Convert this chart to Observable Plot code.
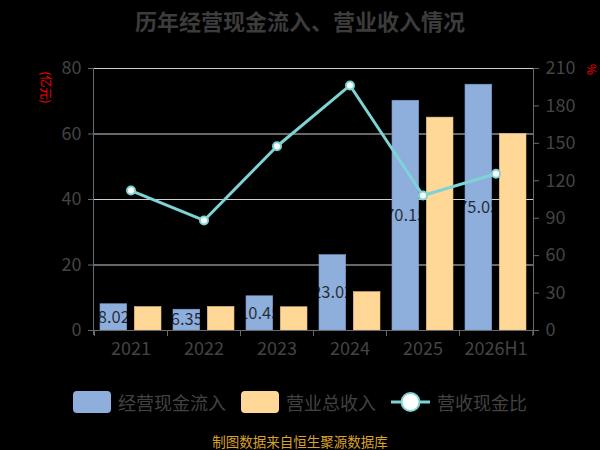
<!DOCTYPE html>
<html>
<head>
<meta charset="utf-8">
<script src="https://cdn.jsdelivr.net/npm/d3@7"></script>
<script src="https://cdn.jsdelivr.net/npm/@observablehq/plot@0.6"></script>
<style>
  html, body { margin: 0; padding: 0; background: #000; width: 600px; height: 450px; overflow: hidden; }
  body { font-family: "Noto Sans CJK SC", "Noto Sans", sans-serif; }
  #title { height: 40px; line-height: 40px; text-align: center; font-size: 22px; font-weight: bold; color: #3c3c3c; }
  #chart { height: 332px; }
  #legend { height: 60px; display: flex; justify-content: center; align-items: center; gap: 15px; font-size: 18px; color: #424242; }
  .item { display: flex; align-items: center; gap: 7px; }
  .sw { width: 38px; height: 22px; border-radius: 4px; }
  #caption { height: 18px; line-height: 18px; text-align: center; font-size: 13.5px; color: #d9a22b; }
</style>
</head>
<body>
<div id="title">历年经营现金流入、营业收入情况</div>
<div id="chart"></div>
<div id="legend"></div>
<div id="caption">制图数据来自恒生聚源数据库</div>
<script>
const years = ["2021", "2022", "2023", "2024", "2025", "2026H1"];
const cashInflow = [8.02, 6.35, 10.45, 23.02, 70.15, 75.05];
const revenue = [7.15, 7.2, 7.1, 11.7, 65.0, 60.0];
const ratio = [112.2, 88.2, 147.7, 196.4, 108.2, 125.6];
const leftTicks = [0, 20, 40, 60, 80];
const rightTicks = [0, 30, 60, 90, 120, 150, 180, 210];
const seriesNames = ["经营现金流入", "营业总收入", "营收现金比"];
const leftUnit = "(亿元)";
const rightUnit = "%";

const blue = "#8eaedc", orange = "#ffd898", teal = "#7ed3d4";
const axisColor = "#6a6a6a", gridColor = "#cfcfcf", textColor = "#444";
const leftMax = 80, rightMax = 210;
const toLeft = v => v * leftMax / rightMax;

const data = years.map((year, i) => ({year, cash: cashInflow[i], rev: revenue[i], ratio: ratio[i]}));

const axisLines = (index, scales, values, dims) => {
  const g = d3.create("svg:g").attr("stroke", axisColor).attr("fill", "none");
  const top = dims.marginTop, bottom = dims.height - dims.marginBottom;
  const left = dims.marginLeft, right = dims.width - dims.marginRight;
  g.append("line").attr("x1", left + 0.5).attr("x2", left + 0.5).attr("y1", top).attr("y2", bottom + 5);
  g.append("line").attr("x1", right + 0.5).attr("x2", right + 0.5).attr("y1", top).attr("y2", bottom + 5);
  g.append("line").attr("x1", left).attr("x2", right).attr("y1", bottom + 0.5).attr("y2", bottom + 0.5);
  const bw = (right - left) / years.length;
  const starts = years.map(y => scales.x(y));
  starts.push(scales.x(years[years.length - 1]) + bw);
  for (const x of starts) {
    g.append("line").attr("x1", x + 0.5).attr("x2", x + 0.5).attr("y1", bottom).attr("y2", bottom + 6);
  }
  return g.node();
};

const plot = Plot.plot({
  width: 600,
  height: 332,
  marginLeft: 93,
  marginRight: 67,
  marginTop: 28,
  marginBottom: 42,
  style: {background: "#000", fontFamily: "'Noto Sans CJK SC', 'Noto Sans', sans-serif", fontSize: "18px", color: textColor},
  x: {type: "band", domain: years, padding: 0},
  y: {domain: [0, leftMax]},
  marks: [
    Plot.gridY(leftTicks.filter(t => t > 0), {stroke: gridColor, strokeOpacity: 1, strokeWidth: 1.2}),
    Plot.barY(data, {x: "year", y: "cash", fill: blue, insetLeft: 6, insetRight: 40.3, stroke: "#7b9bcb", strokeWidth: 0.6}),
    Plot.barY(data, {x: "year", y: "rev", fill: orange, insetLeft: 40.3, insetRight: 6, stroke: "#e8bf7e", strokeWidth: 0.6}),
    Plot.text(data, {x: "year", y: d => d.cash / 2, text: d => d.cash.toFixed(2), dx: -17.2, fill: "#000", fillOpacity: 0.75, fontSize: 16.5}),
    Plot.line(data, {x: "year", y: d => toLeft(d.ratio), stroke: teal, strokeWidth: 3}),
    Plot.dot(data, {x: "year", y: d => toLeft(d.ratio), r: 4, fill: "#fff", stroke: teal, strokeWidth: 2}),
    axisLines,
    Plot.axisX({tickSize: 0, tickPadding: 12, fill: textColor, fontSize: 18, label: null}),
    Plot.axisY(leftTicks, {anchor: "left", tickSize: 5, tickPadding: 7, stroke: axisColor, fill: textColor, fontSize: 18, label: null}),
    Plot.axisY(rightTicks.map(toLeft), {anchor: "right", tickSize: 5, tickPadding: 7, stroke: axisColor, fill: textColor, fontSize: 18, label: null, tickFormat: d => Math.round(d * rightMax / leftMax)}),
    Plot.text([leftUnit], {frameAnchor: "top-left", dx: -49, dy: 19, rotate: 90, textAnchor: "middle", lineAnchor: "middle", fill: "#ff0000", fontSize: 12}),
    Plot.text([rightUnit], {frameAnchor: "top-right", dx: 57, dy: 1, rotate: 90, textAnchor: "middle", lineAnchor: "middle", fill: "#ff0000", fontSize: 12})
  ]
});
document.getElementById("chart").appendChild(plot);

const legend = document.getElementById("legend");
const swatchColors = [blue, orange];
seriesNames.forEach((name, i) => {
  const item = document.createElement("div");
  item.className = "item";
  if (i < 2) {
    const sw = document.createElement("div");
    sw.className = "sw";
    sw.style.background = swatchColors[i];
    item.appendChild(sw);
  } else {
    const svg = d3.create("svg").attr("width", 39).attr("height", 22);
    svg.append("line").attr("x1", 0).attr("x2", 39).attr("y1", 11).attr("y2", 11).attr("stroke", teal).attr("stroke-width", 3);
    svg.append("circle").attr("cx", 19.5).attr("cy", 11).attr("r", 9).attr("fill", "#fff").attr("stroke", teal).attr("stroke-width", 2);
    item.appendChild(svg.node());
  }
  const label = document.createElement("span");
  label.textContent = name;
  item.appendChild(label);
  legend.appendChild(item);
});
</script>
</body>
</html>
